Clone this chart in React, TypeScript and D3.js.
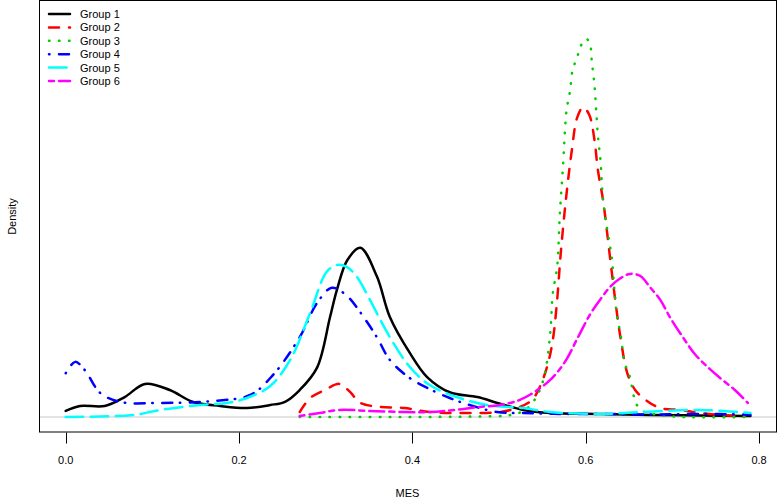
import React, { useRef, useEffect } from "react";
import * as d3 from "d3";

// density curves: [MES, density]
const group1: [number, number][] = [
  [0.0, 0.32], [0.0165, 0.58], [0.045, 0.58], [0.068, 1.05], [0.0915, 1.74],
  [0.12, 1.42], [0.147, 0.79], [0.178, 0.58], [0.209, 0.47], [0.236, 0.63],
  [0.253, 0.8], [0.27, 1.42], [0.29, 2.6], [0.305, 5.26], [0.313, 6.7],
  [0.325, 8.26], [0.34, 8.9], [0.359, 7.4], [0.374, 5.26], [0.397, 3.37],
  [0.417, 2.1], [0.443, 1.3], [0.475, 1.05], [0.498, 0.74], [0.528, 0.37],
  [0.559, 0.21], [0.617, 0.16], [0.674, 0.1], [0.732, 0.08], [0.79, 0.05],
];

const group2: [number, number][] = [
  [0.27, 0.26], [0.282, 1.0], [0.299, 1.42], [0.316, 1.74], [0.328, 1.32],
  [0.34, 0.74], [0.363, 0.53], [0.391, 0.47], [0.42, 0.26], [0.455, 0.21],
  [0.501, 0.26], [0.524, 0.53], [0.538, 0.9], [0.547, 1.58], [0.556, 2.74],
  [0.562, 4.05], [0.567, 6.16], [0.571, 8.53], [0.577, 11.4], [0.584, 14.05],
  [0.59, 15.74], [0.597, 16.3], [0.604, 15.9], [0.61, 14.6], [0.614, 13.0],
  [0.62, 11.4], [0.628, 8.4], [0.634, 6.16], [0.64, 4.2], [0.648, 2.3],
  [0.657, 1.42], [0.669, 0.9], [0.686, 0.47], [0.709, 0.37], [0.732, 0.21],
  [0.755, 0.1], [0.784, 0.05],
];

const group3: [number, number][] = [
  [0.27, 0.0], [0.386, 0.0], [0.478, 0.03], [0.513, 0.1], [0.53, 0.37],
  [0.541, 0.9], [0.547, 1.42], [0.553, 2.3], [0.559, 4.4], [0.562, 6.5],
  [0.567, 7.9], [0.57, 10.6], [0.574, 13.4], [0.576, 15.1], [0.578, 16.2],
  [0.582, 17.2], [0.585, 18.3], [0.59, 18.9], [0.593, 19.4], [0.598, 19.8],
  [0.601, 19.9], [0.605, 19.6], [0.607, 18.7], [0.61, 17.5], [0.612, 16.2],
  [0.614, 14.8], [0.617, 13.5], [0.62, 11.4], [0.625, 9.8], [0.63, 8.4],
  [0.633, 6.7], [0.636, 5.3], [0.64, 4.4], [0.645, 2.84], [0.651, 2.1],
  [0.655, 1.16], [0.659, 0.63], [0.668, 0.26], [0.686, 0.1], [0.709, 0.0],
  [0.79, 0.0],
];

const group4: [number, number][] = [
  [0.0, 2.3], [0.011, 2.9], [0.022, 2.47], [0.04, 1.26], [0.063, 0.79],
  [0.109, 0.74], [0.17, 0.84], [0.213, 1.16], [0.239, 2.2], [0.27, 4.2],
  [0.29, 6.0], [0.307, 6.8], [0.324, 6.4], [0.34, 5.5], [0.359, 4.2],
  [0.374, 3.0], [0.397, 2.05], [0.417, 1.53], [0.443, 1.0], [0.466, 0.63],
  [0.498, 0.26], [0.528, 0.21], [0.57, 0.16], [0.617, 0.16], [0.674, 0.13],
  [0.73, 0.16], [0.79, 0.13],
];

const group5: [number, number][] = [
  [0.0, 0.0], [0.04, 0.03], [0.078, 0.1], [0.109, 0.37], [0.155, 0.63],
  [0.186, 0.74], [0.209, 1.0], [0.236, 1.63], [0.259, 3.0], [0.282, 5.47],
  [0.301, 7.63], [0.313, 8.0], [0.324, 7.9], [0.336, 7.37], [0.351, 6.16],
  [0.374, 4.2], [0.397, 2.63], [0.42, 1.68], [0.451, 1.05], [0.486, 0.63],
  [0.528, 0.47], [0.559, 0.26], [0.617, 0.16], [0.663, 0.26], [0.732, 0.37],
  [0.79, 0.21],
];

const group6: [number, number][] = [
  [0.27, 0.05], [0.293, 0.21], [0.316, 0.37], [0.351, 0.32], [0.391, 0.26],
  [0.42, 0.26], [0.449, 0.37], [0.478, 0.53], [0.501, 0.63], [0.524, 0.9],
  [0.541, 1.32], [0.559, 1.95], [0.576, 2.9], [0.59, 4.1], [0.605, 5.4],
  [0.617, 6.2], [0.628, 6.84], [0.64, 7.3], [0.651, 7.53], [0.663, 7.42],
  [0.674, 6.84], [0.686, 6.16], [0.697, 5.26], [0.712, 4.2], [0.726, 3.3],
  [0.738, 2.74], [0.755, 2.05], [0.772, 1.42], [0.787, 0.74],
];

const groupNames = ["Group 1", "Group 2", "Group 3", "Group 4", "Group 5", "Group 6"];
const xTicks = [0.0, 0.2, 0.4, 0.6, 0.8];

const series = [group1, group2, group3, group4, group5, group6];
const colors = ["black", "#FF0000", "#00CD00", "#0000FF", "#00FFFF", "#FF00FF"];
// R lty 1..6 at lwd 2.5
const dashes = [null, "10,10", "0.5,9.5", "0.5,9.5,10,7.5", "17.5,7.5", "5,5,15,5"];

const App = () => {
  const ref = useRef<SVGSVGElement>(null);

  useEffect(() => {
    const width = 777;
    const height = 498;
    const box = { left: 39, right: 776, top: 1, bottom: 432 };
    const font = "'Liberation Sans', Arial, Helvetica, sans-serif";

    const svg = d3.select(ref.current);
    svg.selectAll("*").remove();
    svg.attr("width", width).attr("height", height);

    const x = d3.scaleLinear().domain([-0.0308, 0.8195]).range([box.left, box.right]);
    const y = d3.scaleLinear().domain([-0.79, 21.89]).range([box.bottom, box.top]);

    // zero line
    svg.append("line")
      .attr("x1", box.left).attr("x2", box.right)
      .attr("y1", y(0)).attr("y2", y(0))
      .attr("stroke", "#c8c8c8").attr("stroke-width", 1);

    const line = d3.line<[number, number]>()
      .x(d => x(d[0]))
      .y(d => y(d[1]))
      .curve(d3.curveCatmullRom.alpha(0.5));

    series.forEach((s, i) => {
      const p = svg.append("path")
        .datum(s)
        .attr("fill", "none")
        .attr("stroke", colors[i])
        .attr("stroke-width", 2.5)
        .attr("stroke-linecap", "round")
        .attr("stroke-linejoin", "round")
        .attr("d", line);
      if (dashes[i]) p.attr("stroke-dasharray", dashes[i]);
    });

    // box
    svg.append("rect")
      .attr("x", box.left + 0.5).attr("y", box.top - 0.5)
      .attr("width", box.right - box.left).attr("height", box.bottom - box.top + 0.5)
      .attr("fill", "none").attr("stroke", "black").attr("stroke-width", 1);

    // x axis
    const ax = svg.append("g").attr("transform", `translate(0,${box.bottom + 0.5})`);
    ax.selectAll("line.tick").data(xTicks).enter().append("line")
      .attr("x1", d => Math.round(x(d)) + 0.5).attr("x2", d => Math.round(x(d)) + 0.5)
      .attr("y1", 0).attr("y2", 11)
      .attr("stroke", "black");
    ax.selectAll("text").data(xTicks).enter().append("text")
      .attr("x", d => x(d)).attr("y", 31)
      .attr("text-anchor", "middle")
      .attr("font-family", font).attr("font-size", 11)
      .text(d => d3.format(".1f")(d));

    svg.append("text")
      .attr("x", (box.left + box.right) / 2).attr("y", 497)
      .attr("text-anchor", "middle")
      .attr("font-family", font).attr("font-size", 11)
      .text("MES");

    svg.append("text")
      .attr("transform", `translate(16,${(box.top + box.bottom) / 2}) rotate(-90)`)
      .attr("text-anchor", "middle")
      .attr("font-family", font).attr("font-size", 11)
      .text("Density");

    // legend
    const lg = svg.append("g");
    groupNames.forEach((name, i) => {
      const cy = 14 + i * 13.4;
      const l = lg.append("line")
        .attr("x1", 49).attr("x2", 70)
        .attr("y1", cy).attr("y2", cy)
        .attr("stroke", colors[i])
        .attr("stroke-width", 2.5)
        .attr("stroke-linecap", "round");
      if (dashes[i]) l.attr("stroke-dasharray", dashes[i]);
      lg.append("text")
        .attr("x", 80).attr("y", cy + 4)
        .attr("font-family", font).attr("font-size", 11)
        .text(name);
    });
  }, []);

  return <svg ref={ref} style={{ position: "absolute", left: 0, top: 0, display: "block" }}></svg>;
};

export default App;
